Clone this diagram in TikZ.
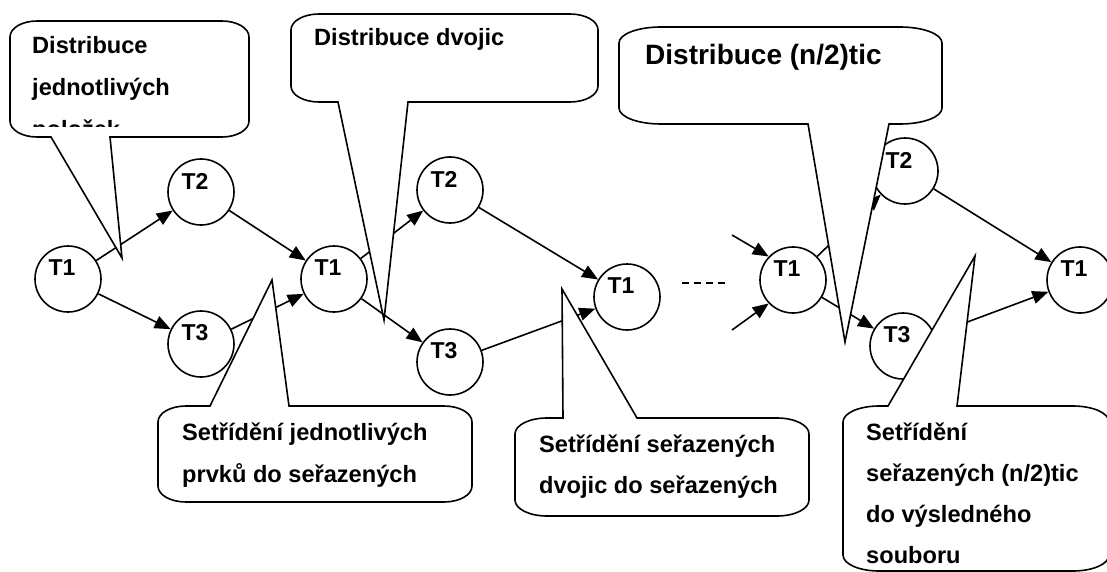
\documentclass[tikz,border=0pt]{standalone}
\usepackage{fontspec}
\setmainfont{Liberation Sans}
\usetikzlibrary{arrows.meta}
\tikzstyle{uz}=[circle,draw=black,line width=1.6pt,minimum size=66pt,inner sep=0pt,fill=white]
\tikzstyle{tl}=[font=\bfseries\fontsize{23}{26}\selectfont,inner sep=0pt,xshift=-6pt,yshift=11pt]
\tikzstyle{sip}=[-{Triangle[length=16pt,width=13pt]},line width=1.6pt]
\tikzstyle{bub}=[draw=black,fill=white,line width=1.6pt,line join=miter]
\tikzstyle{txt}=[anchor=base west,inner sep=0pt,align=left,font=\bfseries\fontsize{23.6}{42}\selectfont]
% bubble with its wedge hanging down: left, top, right, bottom, wedge from, wedge to, tip x, tip y, corner width
\newcommand{\bubbledn}[9]{%
\draw[bub] (#1,{#2+16}) .. controls (#1,{#2+7}) and ({#1+0.45*#9},#2) .. ({#1+#9},#2)
 -- ({#3-#9},#2) .. controls ({#3-0.45*#9},#2) and (#3,{#2+7}) .. (#3,{#2+16})
 -- (#3,{#4-16}) .. controls (#3,{#4-7}) and ({#3-0.45*#9},#4) .. ({#3-#9},#4)
 -- (#6,#4) -- (#7,#8) -- (#5,#4)
 -- ({#1+#9},#4) .. controls ({#1+0.45*#9},#4) and (#1,{#4-7}) .. (#1,{#4-16}) -- cycle;}
% same, wedge pointing up from the top edge
\newcommand{\bubbleup}[9]{%
\draw[bub] (#1,{#2+16}) .. controls (#1,{#2+7}) and ({#1+0.45*#9},#2) .. ({#1+#9},#2)
 -- (#5,#2) -- (#7,#8) -- (#6,#2)
 -- ({#3-#9},#2) .. controls ({#3-0.45*#9},#2) and (#3,{#2+7}) .. (#3,{#2+16})
 -- (#3,{#4-16}) .. controls (#3,{#4-7}) and ({#3-0.45*#9},#4) .. ({#3-#9},#4)
 -- ({#1+#9},#4) .. controls ({#1+0.45*#9},#4) and (#1,{#4-7}) .. (#1,{#4-16}) -- cycle;}

\begin{document}
\begin{tikzpicture}[x=1pt,y=-1pt]
\useasboundingbox (0,0) rectangle (1107,572);
\clip (0,0) rectangle (1107,572);

\node[uz,label={[tl]center:T1}] (t1a) at (68,279) {};
\node[uz,label={[tl]center:T2}] (t2a) at (201,192) {};
\node[uz,label={[tl]center:T3}] (t3a) at (201,344) {};
\node[uz,label={[tl]center:T1}] (t1b) at (334,279) {};
\node[uz,label={[tl]center:T2}] (t2b) at (450,190) {};
\node[uz,label={[tl]center:T3}] (t3b) at (450,362) {};
\node[uz,label={[tl]center:T1}] (t1c) at (627,297) {};
\node[uz,label={[tl]center:T1}] (t1d) at (793,280) {};
\node[uz,label={[tl]center:T2}] (t2d) at (905,171) {};
\node[uz,label={[tl]center:T3}] (t3d) at (903,346) {};
\node[uz,label={[tl]center:T1}] (t1e) at (1080,280) {};

\draw[sip] (t1a) -- (t2a);
\draw[sip] (t1a) -- (t3a);
\draw[sip] (t2a) -- (t1b);
\draw[sip] (t3a) -- (t1b);
\draw[sip] (t1b) -- (t2b);
\draw[sip] (t1b) -- (t3b);
\draw[sip] (t2b) -- (t1c);
\draw[sip] (t3b) -- (t1c);
\coordinate (d1) at (682,283);
\coordinate (d2) at (727,283);
\draw[line width=1.2pt,dash pattern=on 7pt off 5pt] (d1) -- (d2);
\coordinate (in1) at (732,235);
\coordinate (in2) at (732,330);
\draw[sip] (in1) -- (t1d.136);
\draw[sip] (in2) -- (t1d.224);
\draw[sip] (t1d) -- (t2d);
\draw[sip] (t1d) -- (t3d);
\draw[sip] (t2d) -- (t1e);
\draw[sip] (t3d) -- (t1e);

\bubbledn{10}{21}{249}{137}{51}{110}{122}{258}{27}
\bubbledn{291}{14}{598}{102}{338}{408}{384}{320}{28}
\bubbledn{619}{27}{942}{124}{808}{889}{845}{342}{42}
\bubbleup{158}{406}{472}{502}{210}{289}{272}{280}{28}
\bubbleup{515}{418}{809}{516}{563}{637}{562}{289}{32}
\bubbleup{843}{406}{1109}{571}{888}{957}{975}{256}{36}

% multi-line texts sit on the baseline of their last line
\begin{scope}
\clip (12,23) rectangle (247,127);
\node[txt] (c1) at (32,138) {Distribuce\\jednotlivých\\položek};
\end{scope}
\node[txt] (c2) at (314,46) {Distribuce dvojic};
\node[txt,font=\bfseries\fontsize{28}{34}\selectfont] (c3) at (645,65) {Distribuce (n/2)tic};
\node[txt] (c4) at (182,482) {Setřídění jednotlivých\\prvků do seřazených};
\node[txt,font=\bfseries\fontsize{23.6}{41}\selectfont] (c5) at (539,493) {Setřídění seřazených\\dvojic do seřazených};
\node[txt,font=\bfseries\fontsize{23.6}{41}\selectfont] (c6) at (866,563) {Setřídění\\seřazených (n/2)tic\\do výsledného\\souboru};
\end{tikzpicture}
\end{document}
